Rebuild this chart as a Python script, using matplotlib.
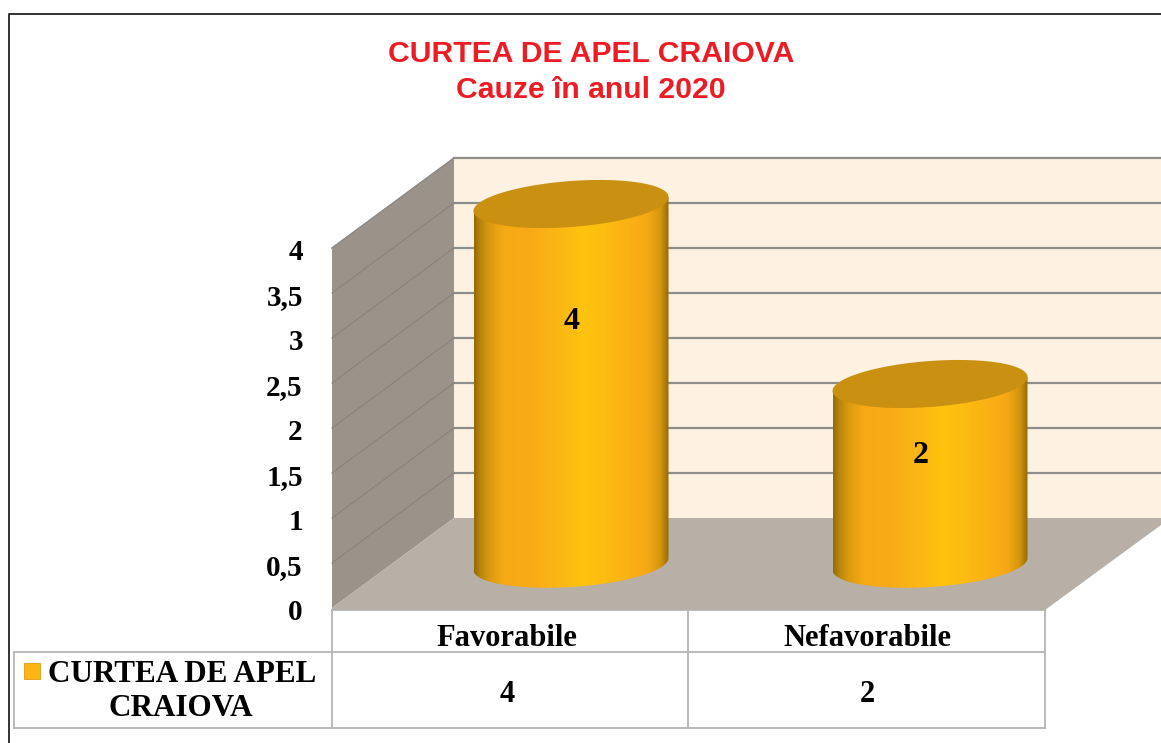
"""
3D style cylinder chart for the Craiova court of appeal cases
"""
import numpy as np
import matplotlib.pyplot as plt
from matplotlib.colors import to_rgba_array
from matplotlib.patches import Polygon, Rectangle

title_lines = ["CURTEA DE APEL CRAIOVA", "Cauze în anul 2020"]
categories = ["Favorabile", "Nefavorabile"]
values = [4, 2]
series_name = ["CURTEA DE APEL", "CRAIOVA"]
y_ticks = [0, 0.5, 1, 1.5, 2, 2.5, 3, 3.5, 4]
y_tick_labels = ["0", "0,5", "1", "1,5", "2", "2,5", "3", "3,5", "4"]

W, H = 1161, 743
SERIF = "Liberation Serif"
SANS = "Liberation Sans"
ORANGE = "#fdb515"
LINE = "#b4b4b2"

fig = plt.figure(figsize=(W / 100, H / 100), dpi=100, facecolor="white")

# Background axes in pixels: frame, walls, floor and the data table
bg = fig.add_axes([0, 0, 1, 1])
bg.set_xlim(0, W)
bg.set_ylim(H, 0)
bg.axis("off")

bg.plot([9, 9, W], [H, 14, 14], color="#222222", lw=1.3)

for line, y in zip(title_lines, [54, 90]):
    bg.text(591, y, line, color="#ed1c24", family=SANS, weight="bold",
            fontsize=21.7, ha="center", va="center")

bg.add_patch(Polygon([(454, 158), (W, 158), (W, 518), (454, 518)], fc="#fdf1e2", ec="none"))
bg.add_patch(Polygon([(332, 608), (454, 518), (454, 158), (332, 248)], fc="#9b9289", ec="none"))
bg.add_patch(Polygon([(332, 608), (454, 518), (W, 518), (W, 525), (1045, 610), (332, 610)],
                     fc="#b8afa6", ec="none"))
for v in y_ticks[1:]:
    y_back = 518 - 90 * v
    bg.plot([454, W], [y_back, y_back], color="#8d8d8b", lw=1.6)
    bg.plot([332, 454], [y_back + 90, y_back], color="#8a827a", lw=0.8)
bg.plot([332, 454], [248, 158], color="#8d8d8b", lw=1)

# Data table under the plot
table_color = dict(color=LINE, lw=1.3)
bg.plot([332, 1045], [610, 610], **table_color)
bg.plot([14, 1045], [652, 652], **table_color)
bg.plot([14, 1045], [728, 728], **table_color)
bg.plot([14, 14], [652, 728], **table_color)
for x in [332, 688, 1045]:
    bg.plot([x, x], [610, 728], **table_color)

bg.add_patch(Rectangle((24, 663), 16, 16, fc=ORANGE, ec="#e09a10", lw=0.6))
bg.text(182, 675, series_name[0], family=SERIF, weight="bold", fontsize=22.4, ha="center", va="center")
bg.text(181, 708, series_name[1], family=SERIF, weight="bold", fontsize=22.4, ha="center", va="center")
for x, name, value in zip([507, 867], categories, values):
    bg.text(x, 639, name, family=SERIF, weight="bold", fontsize=22, ha="center", va="center")
    bg.text(x, 694, str(value), family=SERIF, weight="bold", fontsize=22, ha="center", va="center")

# Value axis on the front edge of the side wall
ax_y = fig.add_axes([332 / W, (H - 610) / H, 60 / W, 360 / H])
ax_y.patch.set_alpha(0)
ax_y.set_ylim(0, 4)
ax_y.set_xticks([])
ax_y.set_yticks(y_ticks)
ax_y.set_yticklabels(y_tick_labels, family=SERIF, weight="bold", fontsize=21)
ax_y.tick_params(axis="y", length=0, pad=21)
for spine in ax_y.spines.values():
    spine.set_visible(False)

# Cylinders, one unit of value is 90 px and the categories are 359 px apart
ax = fig.add_axes([0, 0, 1, 1])
ax.patch.set_alpha(0)
ax.axis("off")
half_width = 97.5 / 359
depth = 23 / 90
tilt_top = 7 / 90
tilt_bottom = 6 / 90
shade = ["#966a08", "#b8850d", "#dc9a10", "#f5a914", "#f8ab16", "#fbb515", "#ffc30e",
         "#fdbd10", "#f9ac16", "#f3a714", "#d2950f", "#966a08"]
shade_pos = np.array([0, 0.03, 0.08, 0.15, 0.3, 0.42, 0.56, 0.66, 0.85, 0.9, 0.96, 1])
grid_x = np.linspace(0, 1, 200)
shade_rgb = to_rgba_array(shade)[:, :3]
gradient = np.stack([np.interp(grid_x, shade_pos, shade_rgb[:, i]) for i in range(3)], axis=1)[None, :, :]

t = np.linspace(0, 2 * np.pi, 300)
for i, value in enumerate(values):
    # lower half of the base ellipse, then up to the top ellipse
    t_low = np.linspace(np.pi, 0, 150)
    base_x = i + half_width * np.cos(t_low)
    base_y = -depth * np.sin(t_low) + tilt_bottom * np.cos(t_low)
    outline = np.column_stack([
        np.r_[base_x, i + half_width, i - half_width],
        np.r_[base_y, value + tilt_top, value - tilt_top],
    ])
    body = Polygon(outline, fc="none", ec="none")
    ax.add_patch(body)
    im = ax.imshow(gradient, extent=[i - half_width, i + half_width, -0.5, value + 0.5],
                   aspect="auto", interpolation="bilinear")
    im.set_clip_path(body)
    top_x = i + half_width * np.cos(t)
    top_y = value + depth * np.sin(t) + tilt_top * np.cos(t)
    ax.fill(top_x, top_y, color="#ca9012", lw=0)
    ax.text(i + 0.003 - 0.028 * i, value * 0.74 - 0.27, str(value), family=SERIF, weight="bold",
            fontsize=23, ha="center", va="center")

ax.set_xlim((0 - 571) / 359, (W - 571) / 359)
ax.set_ylim((564 - H) / 90, 564 / 90)

fig.savefig("out.png", dpi=100)
